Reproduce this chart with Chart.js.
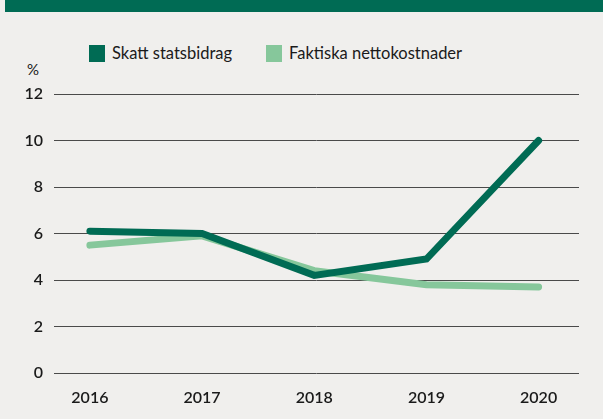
<!DOCTYPE html>
<html>
<head>
<meta charset="utf-8">
<script src="https://cdn.jsdelivr.net/npm/chart.js@4/dist/chart.umd.min.js"></script>
<style>
  html, body { margin: 0; padding: 0; background: #f0efed; }
  #wrap { position: relative; width: 603px; height: 419px; overflow: hidden; }
  #band { position: absolute; left: 5px; top: 0; right: 0; height: 12px; background: #006b54; }
  #legend { position: absolute; top: 43px; left: 89px; font: 16.5px Lato, sans-serif; color: #1a1a1a; white-space: nowrap; }
  #legend span.item { display: inline-block; margin-right: 34px; }
  #legend i { display: inline-block; width: 16px; height: 17px; vertical-align: -3px; margin-right: 7px; }
  #pct { position: absolute; left: 27px; top: 60px; font: 15px Lato, sans-serif; color: #1a1a1a; }
  canvas { position: absolute; left: 0; top: 0; }
</style>
</head>
<body>
<div id="wrap">
  <div id="band"></div>
  <div id="legend"></div>
  <div id="pct">%</div>
  <canvas id="lineChart" width="603" height="419"></canvas>
</div>
<script>
const years = [2016, 2017, 2018, 2019, 2020];
const skattStatsbidrag = [6.1, 6.0, 4.2, 4.9, 10.0];
const faktiskaNetto = [5.5, 5.9, 4.4, 3.8, 3.7];
const yTicks = [0, 2, 4, 6, 8, 10, 12];

const dark = '#006b54';
const light = '#86c79b';

const series = [
  { label: 'Skatt statsbidrag', values: skattStatsbidrag, color: dark },
  { label: 'Faktiska nettokostnader', values: faktiskaNetto, color: light }
];

document.getElementById('legend').innerHTML = series.map(s =>
  '<span class="item"><i style="background:' + s.color + '"></i>' + s.label + '</span>').join('');

const ctx = document.getElementById('lineChart');

new Chart(ctx, {
  type: 'line',
  data: {
    datasets: series.map(s => ({
      label: s.label,
      data: years.map((yr, i) => ({ x: yr, y: s.values[i] })),
      borderColor: s.color,
      backgroundColor: s.color,
      borderWidth: 7,
      borderCapStyle: 'round',
      borderJoinStyle: 'miter',
      pointRadius: 0,
      tension: 0
    }))
  },
  options: {
    responsive: false,
    animation: false,
    layout: { padding: { top: 94, right: 24, left: 0, bottom: 0 } },
    plugins: { legend: { display: false }, tooltip: { enabled: false } },
    scales: {
      x: {
        type: 'linear',
        min: 2015.68,
        max: 2020.36,
        afterBuildTicks: scale => { scale.ticks = years.map(v => ({ value: v })); },
        afterFit: scale => { scale.height = 46; },
        grid: { display: false },
        border: { display: false },
        ticks: {
          padding: 7,
          color: '#1a1a1a',
          font: { family: 'Lato', size: 16, weight: '600' },
          callback: v => String(v)
        }
      },
      y: {
        min: 0,
        max: 12,
        afterBuildTicks: scale => { scale.ticks = yTicks.map(v => ({ value: v })); },
        afterFit: scale => { scale.width = 54; },
        grid: { color: '#4a4a4a', lineWidth: 1, drawTicks: false },
        border: { display: false },
        ticks: {
          padding: 11,
          color: '#1a1a1a',
          font: { family: 'Lato', size: 16, weight: '600' }
        }
      }
    }
  }
});
</script>
</body>
</html>
